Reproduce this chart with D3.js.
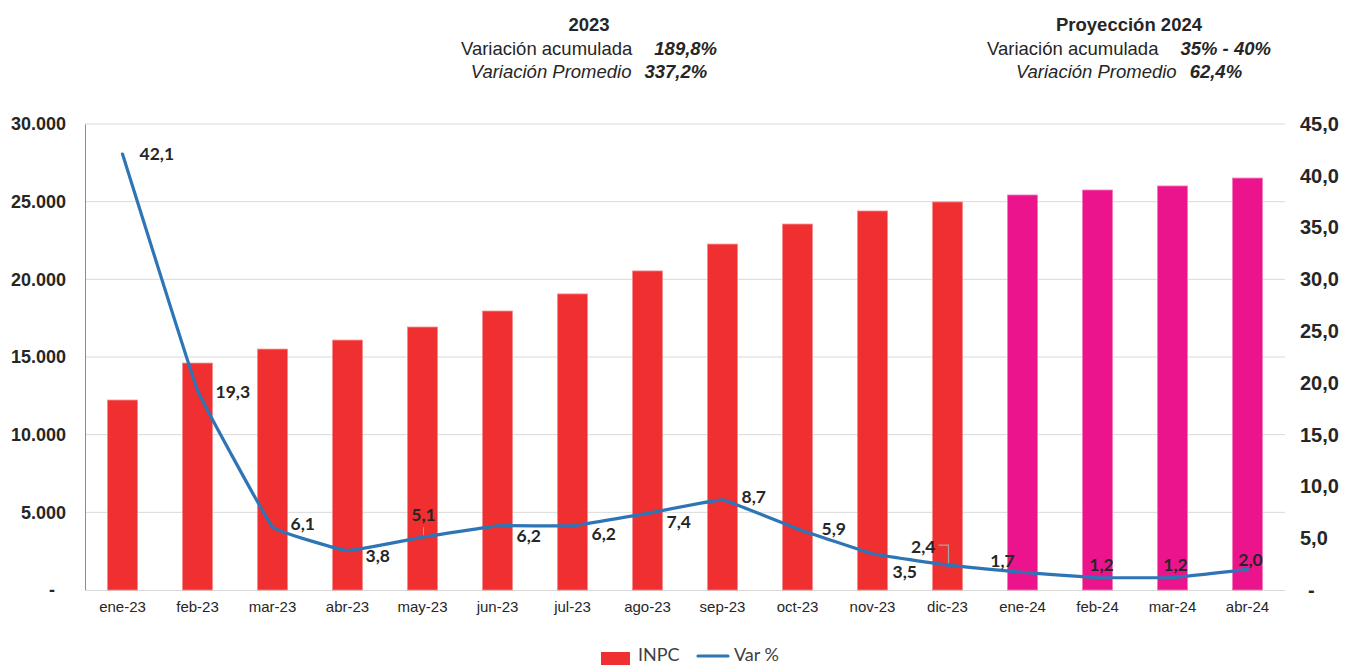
<!DOCTYPE html>
<html>
<head>
<meta charset="utf-8">
<script src="https://cdn.jsdelivr.net/npm/d3@7"></script>
<style>
  body { margin: 0; background: #fff; }
  svg { display: block; }
</style>
</head>
<body>
<svg id="chart" width="1346" height="665"></svg>
<script>
// data
var months = ['ene-23','feb-23','mar-23','abr-23','may-23','jun-23','jul-23','ago-23',
              'sep-23','oct-23','nov-23','dic-23','ene-24','feb-24','mar-24','abr-24'];
var inpc = [12230, 14610, 15510, 16090, 16930, 17960, 19060, 20540,
            22270, 23560, 24400, 24980, 25430, 25750, 26010, 26520];
var varPct = [42.1, 19.3, 6.1, 3.8, 5.1, 6.2, 6.2, 7.4, 8.7, 5.9, 3.5, 2.4, 1.7, 1.2, 1.2, 2.0];
var projected = [false,false,false,false,false,false,false,false,false,false,false,false,true,true,true,true];
var leftTicks = [0, 5000, 10000, 15000, 20000, 25000, 30000];
var rightTicks = [0, 5, 10, 15, 20, 25, 30, 35, 40, 45];

// label placement, relative to each point (anchor, dx, dy)
var labelPos = [
  ['start', 17, 0], ['start', 18, 2], ['start', 18, -3], ['start', 18, 5],
  ['middle', 1, -22], ['start', 19, 10], ['start', 19, 8], ['start', 19, 8],
  ['start', 19, -3], ['start', 24, 0], ['start', 20, 18], ['end', -12, -18],
  ['middle', -20, -12], ['middle', 4, -13], ['middle', 3, -13], ['middle', 3, -10]
];

var svg = d3.select('#chart');
var m = {left: 85, right: 1285, top: 124, bottom: 590};

var x = d3.scaleBand().domain(months).range([m.left, m.right]).paddingInner(0.6).paddingOuter(0.3);
var xc = function(d){ return x(d) + x.bandwidth() / 2; };
var yL = d3.scaleLinear().domain([0, 30000]).range([m.bottom, m.top]);
var yR = d3.scaleLinear().domain([0, 45]).range([m.bottom, m.top]);

var fmtL = function(v){ return v === 0 ? '-' : d3.format(',')(v).replace(/,/g, '.'); };
var fmtR = function(v){ return v === 0 ? '-' : d3.format('.1f')(v).replace('.', ','); };

// gridlines
svg.append('g')
  .selectAll('line')
  .data(leftTicks.slice(1))
  .enter()
  .append('line')
  .attr('x1', m.left).attr('x2', m.right)
  .attr('y1', function(d){ return yL(d); })
  .attr('y2', function(d){ return yL(d); })
  .attr('stroke', '#d9d9d9')
  .attr('stroke-width', 1);

// left axis
var axL = svg.append('g')
  .attr('transform', 'translate(' + m.left + ',0)')
  .call(d3.axisLeft(yL).tickValues(leftTicks).tickSize(0).tickPadding(19).tickFormat(fmtL));
axL.select('.domain').attr('stroke', '#8c8c8c');
axL.selectAll('text')
  .attr('font-family', 'Liberation Sans, Arial, sans-serif')
  .attr('font-weight', 'bold')
  .attr('font-size', 18)
  .attr('fill', '#262626')
  .attr('dx', function(d){ return d === 0 ? -11 : 0; });

// right axis
var axR = svg.append('g')
  .attr('transform', 'translate(' + m.right + ',0)')
  .call(d3.axisRight(yR).tickValues(rightTicks).tickSize(0).tickPadding(15).tickFormat(fmtR));
axR.select('.domain').remove();
axR.selectAll('text')
  .attr('font-family', 'Liberation Sans, Arial, sans-serif')
  .attr('font-weight', 'bold')
  .attr('font-size', 20)
  .attr('fill', '#262626')
  .attr('dx', function(d){ return d === 0 ? 8 : 0; });

// bottom axis
var axB = svg.append('g')
  .attr('transform', 'translate(0,' + m.bottom + ')')
  .call(d3.axisBottom(x).tickSize(0).tickPadding(11));
axB.select('.domain').attr('stroke', '#d9d9d9').attr('d', 'M' + m.left + ',0.5H' + m.right);
axB.selectAll('text')
  .attr('font-family', 'Liberation Sans, Arial, sans-serif')
  .attr('font-size', 15)
  .attr('fill', '#262626');

// bars
svg.append('g')
  .selectAll('rect')
  .data(months)
  .enter()
  .append('rect')
  .attr('x', function(d){ return x(d); })
  .attr('y', function(d, i){ return yL(inpc[i]); })
  .attr('width', x.bandwidth())
  .attr('height', function(d, i){ return yL(0) - yL(inpc[i]); })
  .attr('fill', function(d, i){ return projected[i] ? '#ec148d' : '#ef2f30'; })
  .attr('stroke', function(d, i){ return projected[i] ? '#f37ab9' : '#f48a8a'; })
  .attr('stroke-width', 0.8);

// line (Excel-like light smoothing)
var line = d3.line()
  .x(function(d, i){ return xc(months[i]); })
  .y(function(d){ return yR(d); })
  .curve(d3.curveCardinal.tension(0.8));

svg.append('path')
  .datum(varPct)
  .attr('d', line)
  .attr('fill', 'none')
  .attr('stroke', '#2e75b6')
  .attr('stroke-width', 3.2)
  .attr('stroke-linecap', 'round');

// leader lines for a couple of moved labels
var p4 = [xc(months[4]), yR(varPct[4])];
var p11 = [xc(months[11]), yR(varPct[11])];
svg.append('path')
  .attr('d', 'M' + (p4[0] + 1) + ',' + (p4[1] - 10) + 'V' + (p4[1] - 2))
  .attr('stroke', '#a6a6a6').attr('fill', 'none').attr('stroke-width', 1);
svg.append('path')
  .attr('d', 'M' + (p11[0] - 9) + ',' + (p11[1] - 20) + 'H' + (p11[0] + 1) + 'V' + (p11[1] - 2))
  .attr('stroke', '#a6a6a6').attr('fill', 'none').attr('stroke-width', 1.2);

// data labels
svg.append('g')
  .selectAll('text')
  .data(varPct)
  .enter()
  .append('text')
  .attr('x', function(d, i){ return xc(months[i]) + labelPos[i][1]; })
  .attr('y', function(d, i){ return yR(d) + labelPos[i][2]; })
  .attr('dy', '0.36em')
  .attr('text-anchor', function(d, i){ return labelPos[i][0]; })
  .attr('font-family', 'Lato, Open Sans, sans-serif')
  .attr('font-weight', 'bold')
  .attr('font-size', 17.5)
  .attr('fill', '#262626')
  .text(function(d){ return d3.format('.1f')(d).replace('.', ','); });

// header blocks
function header(cx, title, acum, prom){
  var g = svg.append('g')
    .attr('font-family', 'Liberation Sans, Arial, sans-serif')
    .attr('font-size', 18.5)
    .attr('fill', '#262626')
    .attr('text-anchor', 'middle');
  g.append('text').attr('x', cx).attr('y', 31).attr('font-weight', 'bold').text(title);
  var t2 = g.append('text').attr('x', cx).attr('y', 55);
  t2.append('tspan').text('Variación acumulada');
  t2.append('tspan').attr('dx', 22).attr('font-weight', 'bold').attr('font-style', 'italic').text(acum);
  var t3 = g.append('text').attr('x', cx).attr('y', 78).attr('font-style', 'italic');
  t3.append('tspan').text('Variación Promedio');
  t3.append('tspan').attr('dx', 13).attr('font-weight', 'bold').text(prom);
}
header(589, '2023', '189,8%', '337,2%');
header(1129, 'Proyección 2024', '35% - 40%', '62,4%');

// legend
var lg = svg.append('g')
  .attr('font-family', 'Lato, Open Sans, sans-serif')
  .attr('font-size', 18)
  .attr('fill', '#404040');
lg.append('rect').attr('x', 601).attr('y', 652).attr('width', 29).attr('height', 13).attr('fill', '#ef2f30');
lg.append('text').attr('x', 638).attr('y', 661).text('INPC');
lg.append('line').attr('x1', 698).attr('x2', 728).attr('y1', 656).attr('y2', 656)
  .attr('stroke', '#2e75b6').attr('stroke-width', 3.2).attr('stroke-linecap', 'round');
lg.append('text').attr('x', 734).attr('y', 661).text('Var %');
</script>
</body>
</html>
